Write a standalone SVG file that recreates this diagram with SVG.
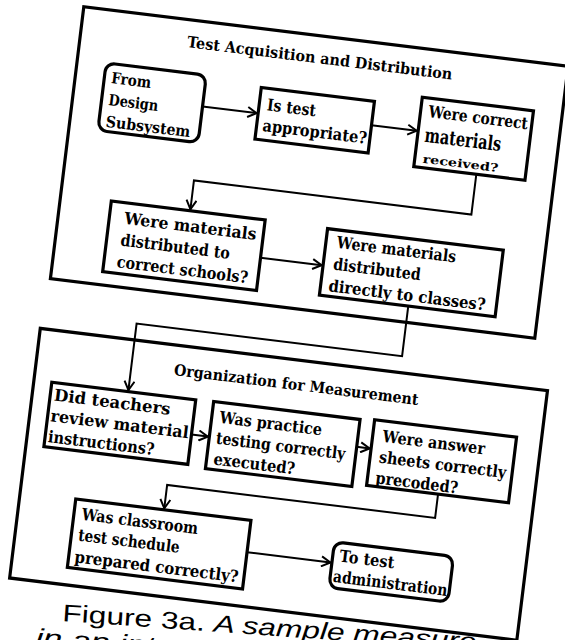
<svg xmlns="http://www.w3.org/2000/svg" width="565" height="640" viewBox="0 0 565 640">
<style>
.frame{fill:none;stroke:#000;stroke-width:3.2}
.box{fill:#fff;stroke:#000;stroke-width:3.2}
.t{font-family:"DejaVu Serif","Liberation Serif",serif;font-weight:bold;font-size:16.5px;fill:#000}
.h{font-family:"DejaVu Serif","Liberation Serif",serif;font-weight:bold;font-size:15.5px;fill:#000}
.c{fill:none;stroke:#000;stroke-width:2;marker-end:url(#ah)}
.cap{font-family:"Liberation Sans",Arial,sans-serif;font-size:24px;fill:#000}
</style>
<defs>
<marker id="ah" markerUnits="userSpaceOnUse" markerWidth="12" markerHeight="12" viewBox="0 0 12 12" refX="11" refY="6" orient="auto">
<path d="M2,1 L11,6 L2,11" fill="none" stroke="#000" stroke-width="2"/>
</marker>
</defs>
<rect width="565" height="640" fill="#fff"/>
<g transform="rotate(7)">
<g id="section-acquisition">
<rect class="frame" x="84" y="-3.5" width="488" height="274"/>
<text class="h" x="191" y="24" textLength="267" lengthAdjust="spacingAndGlyphs">Test Acquisition and Distribution</text>
</g>
<g id="section-organization">
<rect class="frame" x="80" y="321" width="511" height="251.5"/>
<text class="h" x="218" y="351" textLength="246" lengthAdjust="spacingAndGlyphs">Organization for Measurement</text>
</g>
<g id="connectors">
<path class="c" d="M214,81 H268.5"/>
<path class="c" d="M384,79 H429.5"/>
<path class="c" d="M494,115 V155.5 H214.5 V184.5"/>
<path class="c" d="M290,224 H351.5"/>
<path class="c" d="M442.5,254 V304.5 H175 V371.5"/>
<path class="c" d="M243,408 H259.5"/>
<path class="c" d="M408.5,400 H421.5"/>
<path class="c" d="M495,437 V461 H225 V484.5"/>
<path class="c" d="M312.5,518 H396.5"/>
</g>
<g id="from-design">
<rect class="box" x="113" y="49.5" width="101" height="68" rx="9"/>
<text class="t" style="font-size:15.5px" x="120" y="69" textLength="40" lengthAdjust="spacingAndGlyphs">From</text>
<text class="t" style="font-size:15.5px" x="120" y="91" textLength="50" lengthAdjust="spacingAndGlyphs">Design</text>
<text class="t" style="font-size:15.5px" x="120" y="113" textLength="85" lengthAdjust="spacingAndGlyphs">Subsystem</text>
</g>
<g id="test-appropriate">
<rect class="box" x="270" y="55" width="114" height="52"/>
<text class="t" x="278" y="77" textLength="49" lengthAdjust="spacingAndGlyphs">Is test</text>
<text class="t" x="276" y="98" textLength="105" lengthAdjust="spacingAndGlyphs">appropriate?</text>
</g>
<g id="correct-materials">
<rect class="box" x="431" y="45" width="112" height="70"/>
<text class="t" x="439" y="64" textLength="100" lengthAdjust="spacingAndGlyphs">Were correct</text>
<text class="t" style="font-size:20px" x="438" y="89" textLength="77" lengthAdjust="spacingAndGlyphs">materials</text>
<text class="t" style="font-size:11.5px" x="439" y="110" textLength="76" lengthAdjust="spacingAndGlyphs">received?</text>
</g>
<g id="correct-schools">
<rect class="box" x="135" y="186" width="155" height="71"/>
<text class="t" x="150" y="207" textLength="133" lengthAdjust="spacingAndGlyphs">Were materials</text>
<text class="t" x="149" y="229" textLength="110" lengthAdjust="spacingAndGlyphs">distributed to</text>
<text class="t" x="148" y="251" textLength="132" lengthAdjust="spacingAndGlyphs">correct schools?</text>
</g>
<g id="directly-classes">
<rect class="box" x="353" y="187" width="177" height="67"/>
<text class="t" x="364" y="205" textLength="120" lengthAdjust="spacingAndGlyphs">Were materials</text>
<text class="t" x="363" y="227" textLength="88" lengthAdjust="spacingAndGlyphs">distributed</text>
<text class="t" x="361" y="249" textLength="158" lengthAdjust="spacingAndGlyphs">directly to classes?</text>
</g>
<g id="review-instructions">
<rect class="box" x="98" y="373" width="145" height="65"/>
<text class="t" x="102" y="391" textLength="117" lengthAdjust="spacingAndGlyphs">Did teachers</text>
<text class="t" x="101" y="412" textLength="139" lengthAdjust="spacingAndGlyphs">review material</text>
<text class="t" x="101" y="433" textLength="107" lengthAdjust="spacingAndGlyphs">instructions?</text>
</g>
<g id="practice-testing">
<rect class="box" x="261" y="372.5" width="147.5" height="67.5"/>
<text class="t" x="269" y="393" textLength="103" lengthAdjust="spacingAndGlyphs">Was practice</text>
<text class="t" x="268" y="414" textLength="130" lengthAdjust="spacingAndGlyphs">testing correctly</text>
<text class="t" x="268" y="435" textLength="82" lengthAdjust="spacingAndGlyphs">executed?</text>
</g>
<g id="answer-sheets">
<rect class="box" x="423" y="371" width="143" height="66"/>
<text class="t" x="433" y="392" textLength="103" lengthAdjust="spacingAndGlyphs">Were answer</text>
<text class="t" x="432" y="413" textLength="128" lengthAdjust="spacingAndGlyphs">sheets correctly</text>
<text class="t" x="431" y="434" textLength="83" lengthAdjust="spacingAndGlyphs">precoded?</text>
</g>
<g id="test-schedule">
<rect class="box" x="136" y="486" width="176.5" height="69"/>
<text class="t" x="144" y="506" textLength="117" lengthAdjust="spacingAndGlyphs">Was classroom</text>
<text class="t" x="143" y="527" textLength="102" lengthAdjust="spacingAndGlyphs">test schedule</text>
<text class="t" x="142" y="549" textLength="165" lengthAdjust="spacingAndGlyphs">prepared correctly?</text>
</g>
<g id="to-administration">
<rect class="box" x="398" y="497" width="120" height="46" rx="9"/>
<text class="t" x="405" y="516" textLength="55" lengthAdjust="spacingAndGlyphs">To test</text>
<text class="t" x="401" y="537" textLength="115" lengthAdjust="spacingAndGlyphs">administration</text>
</g>
</g>
<g id="caption" transform="rotate(4 62 621)">
<text class="cap" x="62" y="621" textLength="415" lengthAdjust="spacingAndGlyphs">Figure 3a. <tspan font-style="italic">A sample measure</tspan></text>
<text class="cap" font-style="italic" x="37" y="647" textLength="150" lengthAdjust="spacingAndGlyphs">in an inter</text>
</g>
</svg>
